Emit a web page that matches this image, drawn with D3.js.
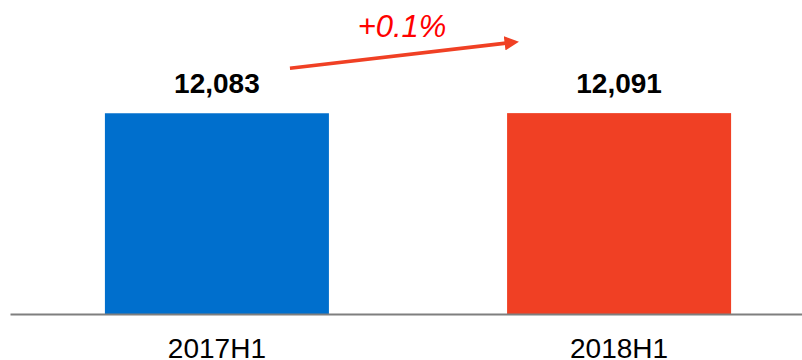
<!DOCTYPE html>
<html>
<head>
<meta charset="utf-8">
<script src="https://cdn.jsdelivr.net/npm/d3@7"></script>
<style>
  body { margin: 0; background: #fff; }
  svg { display: block; font-family: "Liberation Sans", Arial, sans-serif; }
</style>
</head>
<body>
<div id="chart"></div>
<script>
var categories = ["2017H1", "2018H1"];
var values = [12083, 12091];
var barColors = ["#006FCD", "#F04024"];
var changeLabel = "+0.1%";

var svgWidth = 802;
var svgHeight = 360;
var baseY = 314;

var svg = d3.select("#chart")
    .append("svg")
    .attr("width", svgWidth)
    .attr("height", svgHeight);

var xScale = d3.scaleBand()
    .domain(categories)
    .range([10, 826])
    .paddingInner(0.443)
    .paddingOuter(0.236);

var yScale = d3.scaleLinear()
    .domain([0, 18900])
    .range([baseY, 0]);

// bars
svg.selectAll("rect.bar")
    .data(values)
    .enter()
    .append("rect")
    .attr("class", "bar")
    .attr("x", (d, i) => xScale(categories[i]))
    .attr("y", d => yScale(d))
    .attr("width", xScale.bandwidth())
    .attr("height", d => baseY - yScale(d))
    .attr("fill", (d, i) => barColors[i]);

// value labels
svg.selectAll("text.val")
    .data(values)
    .enter()
    .append("text")
    .attr("class", "val")
    .attr("x", (d, i) => xScale(categories[i]) + xScale.bandwidth() / 2)
    .attr("y", d => yScale(d) - 20)
    .attr("text-anchor", "middle")
    .style("font-size", "28px")
    .style("font-weight", "bold")
    .attr("fill", "#000")
    .text(d => d3.format(",")(d));

// x axis
var xAxis = svg.append("g")
    .attr("transform", `translate(0, ${baseY})`)
    .call(d3.axisBottom(xScale).tickSize(0).tickPadding(24));
xAxis.select(".domain")
    .attr("stroke", "#7f7f7f")
    .attr("stroke-width", 2);
xAxis.selectAll("text")
    .style("font-size", "28px")
    .style("font-family", "'Liberation Sans', Arial, sans-serif")
    .attr("fill", "#000");

// growth arrow
var defs = svg.append("defs");
defs.append("marker")
    .attr("id", "head")
    .attr("viewBox", "0 0 10 10")
    .attr("refX", 1)
    .attr("refY", 5)
    .attr("markerWidth", 4)
    .attr("markerHeight", 4)
    .attr("markerUnits", "strokeWidth")
    .attr("orient", "auto")
    .append("path")
    .attr("d", "M0,0L10,5L0,10Z")
    .attr("fill", "#F04024");

var bw = xScale.bandwidth();
var ax1 = xScale(categories[0]) + bw * 0.826;
var ay1 = yScale(values[0]) - 45;
var ax2 = xScale(categories[1]) - 1;
var ay2 = yScale(values[1]) - 70;

svg.append("line")
    .attr("x1", ax1)
    .attr("y1", ay1)
    .attr("x2", ax2)
    .attr("y2", ay2)
    .attr("stroke", "#F04024")
    .attr("stroke-width", 3.6)
    .attr("marker-end", "url(#head)");

svg.append("text")
    .attr("x", (ax1 + ax2) / 2 + 4)
    .attr("y", 37)
    .attr("text-anchor", "middle")
    .attr("fill", "#FF0000")
    .style("font-size", "31px")
    .style("font-style", "italic")
    .text(changeLabel);
</script>
</body>
</html>
